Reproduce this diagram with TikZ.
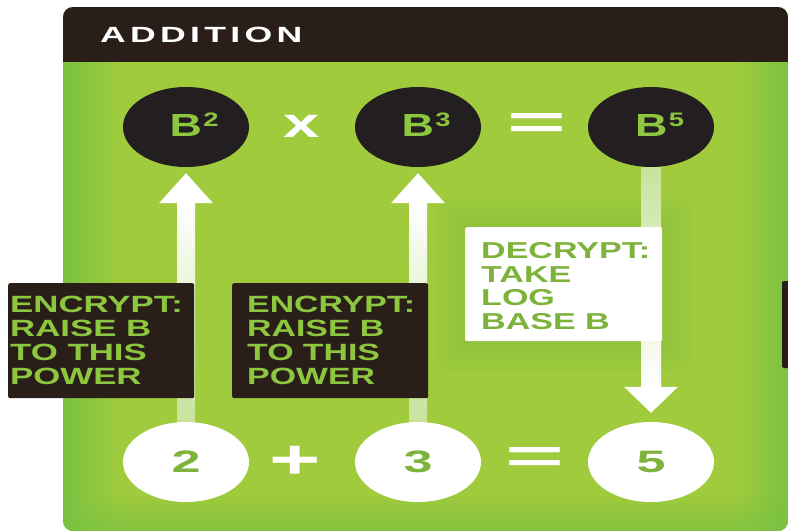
\documentclass[tikz,border=0pt]{standalone}
\usepackage{fontspec}
\setmainfont{Liberation Sans}
\newfontfamily\headfont[LetterSpace=12]{Liberation Sans}
\usetikzlibrary{shapes.geometric,fadings,calc}

\definecolor{panelgreen}{HTML}{9FCB3C}
\definecolor{edgegreen}{HTML}{7CC242}
\definecolor{inkdark}{HTML}{2A1F18}
\definecolor{disc}{HTML}{231F20}
\definecolor{textgreen}{HTML}{8DC63F}
\definecolor{digitgreen}{HTML}{7DB33A}
\definecolor{palegreen}{HTML}{C8E29C}

\newcommand\stretchx[2]{\scalebox{#1}[1]{#2}}

\begin{document}
\begin{tikzpicture}[x=1pt,y=-1pt,
  darkdisc/.style={ellipse, fill=disc, minimum width=126pt, minimum height=80pt, inner sep=0pt},
  whitedisc/.style={ellipse, fill=white, minimum width=126pt, minimum height=80pt, inner sep=0pt},
  power/.style={text=textgreen, font=\fontsize{32}{32}\selectfont\bfseries, inner sep=0pt},
  digit/.style={text=digitgreen, font=\fontsize{31}{31}\selectfont\bfseries, inner sep=0pt},
  operator/.style={text=white, inner sep=0pt},
  encbox/.style={fill=inkdark, rounded corners=2pt, inner sep=0pt, anchor=north west, minimum height=115pt},
  enctext/.style={text=textgreen, font=\fontsize{23.5}{24}\selectfont\bfseries, inner sep=0pt, anchor=north west},
  decbox/.style={fill=white, rounded corners=2pt, inner sep=0pt, anchor=north west, minimum width=197pt, minimum height=114pt},
  dectext/.style={text=digitgreen, font=\fontsize{23}{23.5}\selectfont\bfseries, inner sep=0pt, anchor=north west},
]
\useasboundingbox (0,0) rectangle (788,531);

% panel with dark header strip and darker green rim
\begin{scope}
  \clip[rounded corners=10pt] (63,7) rectangle (788,531);
  \fill[panelgreen] (63,7) rectangle (788,531);
  \fill[edgegreen, path fading=east] (63,62) rectangle (120,531);
  \fill[edgegreen, path fading=west] (735,62) rectangle (788,531);
  \fill[edgegreen, path fading=north, fill opacity=0.8] (63,495) rectangle (788,531);
  \fill[inkdark] (63,7) rectangle (788,62);
\end{scope}
\node[anchor=north west, inner sep=0pt, text=white, font=\fontsize{22}{22}\headfont\bfseries] (title) at (100,27) {\stretchx{1.62}{ADDITION}};

% soft halo behind the decrypt label
\foreach \r in {3,6,...,30}
  \fill[edgegreen, opacity=0.035, rounded corners=14pt] (465-\r,227-\r) rectangle (662+\r,341+\r);

% discs
\node[darkdisc] (b2) at (186,127) {};
\node[darkdisc] (b3) at (418,127) {};
\node[darkdisc] (b5) at (651,127) {};
\node[whitedisc] (two) at (186,462) {};
\node[whitedisc] (three) at (418,462) {};
\node[whitedisc] (five) at (651,462) {};

% encrypt arrows (upwards)
\foreach \lo/\hi in {two/b2, three/b3} {
  \shade[top color=white, bottom color=palegreen]
    ($(\lo.north)+(-9,0)$) rectangle ($(\hi.south)+(9,36)$);
  \fill[white] ($(\hi.south)+(0,6)$) -- ($(\hi.south)+(-27,36)$) -- ($(\hi.south)+(27,36)$) -- cycle;
}
% decrypt arrow (downwards)
\shade[top color=palegreen, bottom color=white]
  ($(b5.south)+(-10,0)$) rectangle ($(five.north)+(10,-35)$);
\fill[white] ($(five.north)+(0,-9)$) -- ($(five.north)+(-27,-35)$) -- ($(five.north)+(27,-35)$) -- cycle;

% labels on the arrows
\node[encbox, minimum width=186pt] (enc1) at (8,283) {};
\node[enctext] (enc1t) at ($(enc1.north west)+(2,12)$)
  {\stretchx{1.48}{\begin{tabular}{@{}l@{}}ENCRYPT:\\RAISE B\\TO THIS\\POWER\end{tabular}}};
\node[encbox, minimum width=196pt] (enc2) at (232,283) {};
\node[enctext] (enc2t) at ($(enc2.north west)+(15,12)$)
  {\stretchx{1.44}{\begin{tabular}{@{}l@{}}ENCRYPT:\\RAISE B\\TO THIS\\POWER\end{tabular}}};
\node[decbox] (dec) at (465,227) {};
\node[dectext] (dect) at ($(dec.north west)+(16,15)$)
  {\stretchx{1.48}{\begin{tabular}{@{}l@{}}DECRYPT:\\TAKE\\LOG\\BASE B\end{tabular}}};
\fill[inkdark, rounded corners=2pt] (782,281) rectangle (800,368);

% powers of B
\node[power] (b2t) at ($(b2)+(8,-2.5)$) {\stretchx{1.4}{B\hspace{1pt}\raisebox{10pt}{\fontsize{19.5}{19.5}\selectfont 2}}};
\node[power] (b3t) at ($(b3)+(8,-2.5)$) {\stretchx{1.4}{B\hspace{1pt}\raisebox{10pt}{\fontsize{19.5}{19.5}\selectfont 3}}};
\node[power] (b5t) at ($(b5)+(8.5,-2.5)$) {\stretchx{1.4}{B\hspace{1pt}\raisebox{10pt}{\fontsize{19.5}{19.5}\selectfont 5}}};

% exponents
\node[digit] (twot) at (two) {\stretchx{1.68}{2}};
\node[digit] (threet) at (three) {\stretchx{1.68}{3}};
\node[digit] (fivet) at (five) {\stretchx{1.68}{5}};

% operators
\node[operator, font=\fontsize{42}{42}\selectfont\bfseries] (times) at (302,126) {\stretchx{1.55}{x}};
\node[operator, font=\fontsize{48}{48}\selectfont\bfseries] (eqtop) at (537,126.5) {\stretchx{2.1}{=}};
\node[operator, font=\fontsize{55}{55}\selectfont\bfseries] (plus) at (295,462) {\stretchx{1.6}{+}};
\node[operator, font=\fontsize{48}{48}\selectfont\bfseries] (eqbot) at (535,460) {\stretchx{2.1}{=}};
\end{tikzpicture}
\end{document}
